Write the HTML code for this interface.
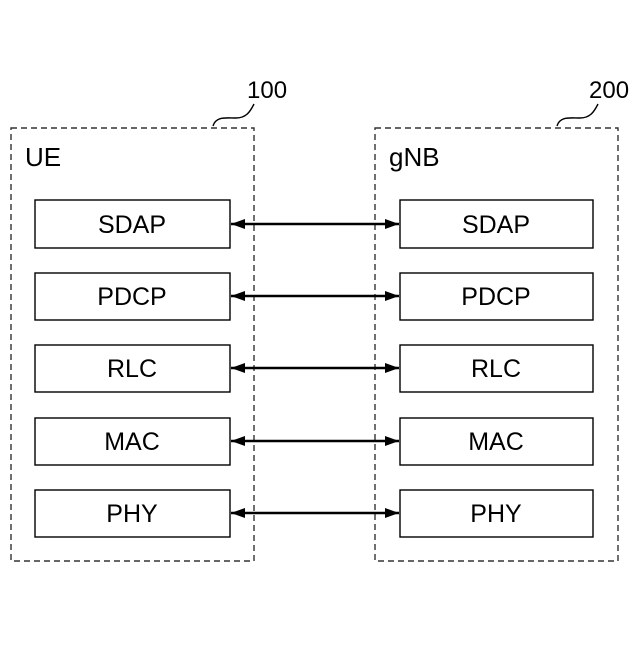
<!DOCTYPE html>
<html><head><style>body{margin:0;background:#fff}</style></head><body>
<svg width="640" height="640" xmlns="http://www.w3.org/2000/svg" font-family="Liberation Sans, sans-serif">
<defs><marker id="a" viewBox="0 0 14 10" refX="14" refY="5" markerWidth="14" markerHeight="10" markerUnits="userSpaceOnUse" orient="auto-start-reverse"><path d="M0,0L14,5L0,10z" fill="#000"/></marker></defs>
<rect x="11" y="128" width="243" height="433" fill="none" stroke="#333" stroke-width="1.4" stroke-dasharray="6,4"/>
<rect x="375" y="128" width="243" height="433" fill="none" stroke="#333" stroke-width="1.4" stroke-dasharray="6,4"/>
<path d="M213,126 C216,116 226,118 236,118 C246,118 250,112 254,104" fill="none" stroke="#000" stroke-width="1.4"/>
<path d="M557,126 C560,116 570,118 580,118 C590,118 594,112 598,104" fill="none" stroke="#000" stroke-width="1.4"/>
<text x="247" y="98" font-size="24">100</text>
<text x="589" y="98" font-size="24">200</text>
<text x="25" y="166" font-size="26">UE</text>
<text x="389" y="166" font-size="26">gNB</text>
<g stroke="#000" stroke-width="1.4" fill="#fff">
<rect x="35" y="200" width="195" height="48"/><rect x="400" y="200" width="193" height="48"/>
<rect x="35" y="273" width="195" height="47"/><rect x="400" y="273" width="193" height="47"/>
<rect x="35" y="345" width="195" height="47"/><rect x="400" y="345" width="193" height="47"/>
<rect x="35" y="418" width="195" height="47"/><rect x="400" y="418" width="193" height="47"/>
<rect x="35" y="490" width="195" height="47"/><rect x="400" y="490" width="193" height="47"/>
</g>
<g stroke="#000" stroke-width="2.4" marker-start="url(#a)" marker-end="url(#a)">
<line x1="231" y1="224" x2="399" y2="224"/>
<line x1="231" y1="296" x2="399" y2="296"/>
<line x1="231" y1="368" x2="399" y2="368"/>
<line x1="231" y1="441" x2="399" y2="441"/>
<line x1="231" y1="513" x2="399" y2="513"/>
</g>
<g font-size="25" text-anchor="middle">
<text x="132" y="233">SDAP</text><text x="496" y="233">SDAP</text>
<text x="132" y="305">PDCP</text><text x="496" y="305">PDCP</text>
<text x="132" y="377">RLC</text><text x="496" y="377">RLC</text>
<text x="132" y="450">MAC</text><text x="496" y="450">MAC</text>
<text x="132" y="522">PHY</text><text x="496" y="522">PHY</text>
</g>
</svg>
</body></html>
